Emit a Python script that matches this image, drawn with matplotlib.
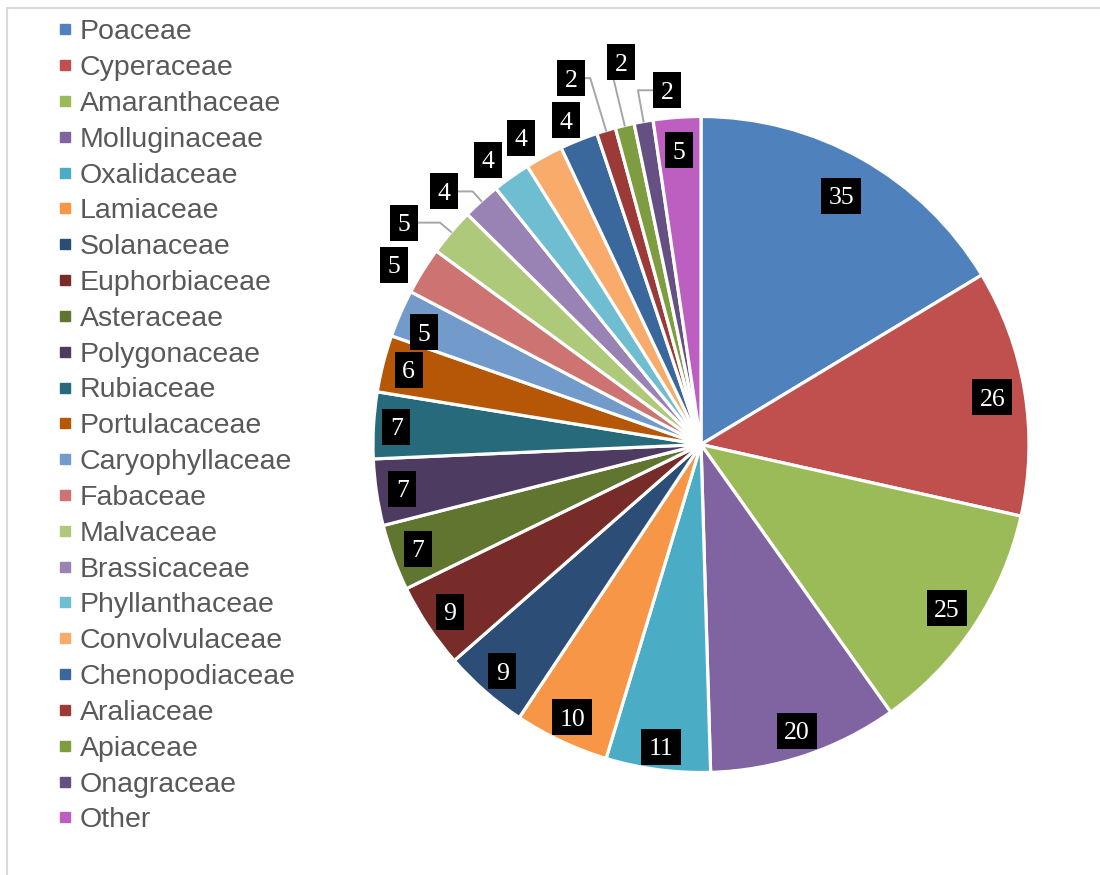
import numpy as np
import matplotlib.pyplot as plt
from matplotlib.lines import Line2D
from matplotlib.patches import Rectangle

# ----------------------------- data ------------------------------------
families = ['Poaceae', 'Cyperaceae', 'Amaranthaceae', 'Molluginaceae', 'Oxalidaceae',
            'Lamiaceae', 'Solanaceae', 'Euphorbiaceae', 'Asteraceae', 'Polygonaceae',
            'Rubiaceae', 'Portulacaceae', 'Caryophyllaceae', 'Fabaceae', 'Malvaceae',
            'Brassicaceae', 'Phyllanthaceae', 'Convolvulaceae', 'Chenopodiaceae',
            'Araliaceae', 'Apiaceae', 'Onagraceae', 'Other']
counts = [35, 26, 25, 20, 11, 10, 9, 9, 7, 7, 7, 6, 5, 5, 5, 4, 4, 4, 4, 2, 2, 2, 5]
colours = ['#4F81BD', '#C0504D', '#9BBB59', '#8064A2', '#4BACC6', '#F79646',
           '#2C4D75', '#772C2A', '#5F7530', '#4D3B62', '#276A7C', '#B65708',
           '#729ACA', '#CD7371', '#AFC97A', '#9983B5', '#6FBDD1', '#F9AB6B',
           '#3A679C', '#9C3A38', '#7E9C40', '#664F82', '#BC5FC1']

# ----------------------------- label layout ----------------------------
# radius of each value label (fraction of pie radius) and angle nudge (deg)
label_r = [0.87, 0.90, 0.90, 0.92, 0.93, 0.92, 0.92, 0.92, 0.92, 0.92,
           0.93, 0.92, 0.91, 1.085, 1.13, 1.10, 1.085, 1.085, 1.07,
           1.185, 1.19, 1.085, 0.90]
label_nudge = [0, 0, 0, 0, 0, 0, 0, 0, 0, 0,
               0, 0, -1.5, -1.6, -3.6, -3.4, -1.5, -1.8, -0.7,
               -2.7, 1.7, 4.6, 0]
with_leader = ['Malvaceae', 'Brassicaceae', 'Araliaceae', 'Apiaceae', 'Onagraceae']

# ------------------------------- plot ----------------------------------
fig = plt.figure(figsize=(11, 8.75), dpi=100)
ax = fig.add_axes([0, 0, 1, 1])
cx, cy, R = 701, 430.5, 328

wedges, _ = ax.pie(counts, colors=colours, startangle=90, counterclock=False,
                   center=(cx, cy), radius=R,
                   wedgeprops=dict(edgecolor='white', linewidth=2.3))
ax.set_xlim(0, 1100)
ax.set_ylim(0, 875)
ax.set_aspect('equal')
ax.axis('off')

total = float(sum(counts))
cum = np.cumsum([0] + counts[:-1])
for i, v in enumerate(counts):
    mid = (cum[i] + v / 2.0) / total * 2 * np.pi
    t = mid + np.radians(label_nudge[i])
    lx = cx + label_r[i] * R * np.sin(t)
    ly = cy + label_r[i] * R * np.cos(t)
    if families[i] in with_leader:
        px = cx + R * np.sin(mid)
        py = cy + R * np.cos(mid)
        s = (ly - cy) / np.cos(mid)
        ex = cx + s * np.sin(mid)
        ax.plot([px, ex, lx], [py, ly, ly], color='#a6a6a6', lw=1.4, zorder=4)
    # black label box, wider for two digits
    txt = str(v)
    w = 16 + 12 * len(txt)
    ax.add_patch(Rectangle((lx - w / 2.0, ly - 18), w, 36, fc='black', ec='none', zorder=5))
    ax.text(lx, ly - 8.5, txt, ha='center', va='baseline', color='white',
            fontsize=18.5, family='Liberation Serif', zorder=6)

handles = [Line2D([], [], marker='s', ls='', color=c, markersize=7) for c in colours]
ax.legend(handles, families, loc='upper left', bbox_to_anchor=(0.0515, 0.978),
          frameon=False, prop={'family': 'Liberation Sans', 'size': 20.5},
          labelcolor='#595959', handlelength=0.6, handletextpad=0.22,
          labelspacing=0.345, borderaxespad=0, borderpad=0)

# chart area outline
ax.add_patch(Rectangle((7, -20), 1200, 875 - 8 + 20, fill=False,
                       edgecolor='#d9d9d9', lw=1.5, clip_on=False))

plt.savefig('out.png', dpi=100)
